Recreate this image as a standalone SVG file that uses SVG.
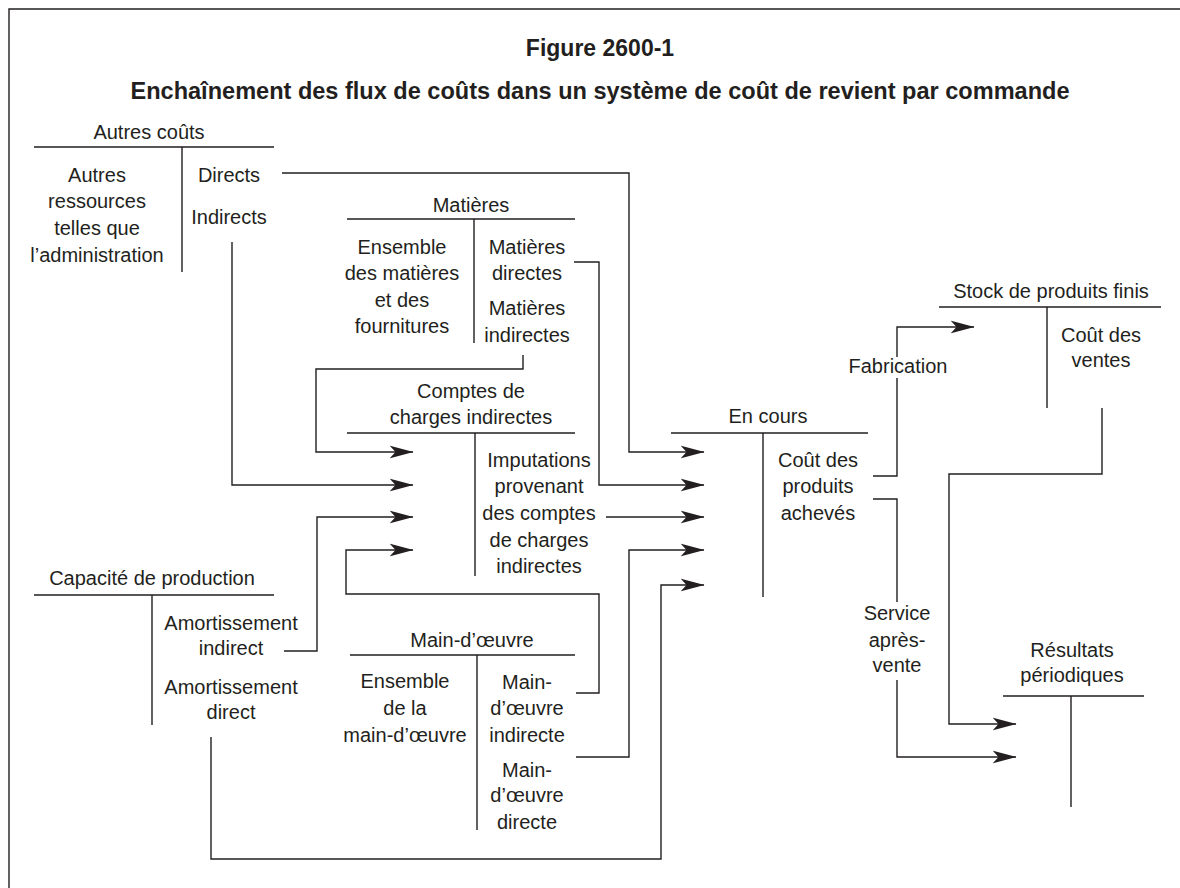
<svg xmlns="http://www.w3.org/2000/svg" width="1180" height="888" viewBox="0 0 1180 888">
<style>
text{font-family:"Liberation Sans",Arial,sans-serif;font-size:20px;fill:#231f20;text-anchor:middle}
.h{font-weight:bold;font-size:23px}
.ln{fill:none;stroke:#231f20;stroke-width:1.4}
.cn{fill:none;stroke:#231f20;stroke-width:1.4}
</style>
<defs>
<marker id="ar" markerUnits="userSpaceOnUse" markerWidth="24" markerHeight="14" viewBox="0 0 24 14" refX="23.5" refY="7" orient="auto">
<path d="M0,0.5 L24,7 L0,13.5 L6,7 Z" fill="#231f20"/>
</marker>
</defs>
<rect width="1180" height="888" fill="#fff"/>
<path class="ln" d="M9,888 V9 H1180"/>
<g id="title">
<text class="h" x="600" y="56">Figure 2600-1</text>
<text class="h" x="600" y="99" textLength="939" lengthAdjust="spacingAndGlyphs">Enchaînement des flux de coûts dans un système de coût de revient par commande</text>
</g>
<g id="autres-couts">
<text x="149" y="139">Autres coûts</text>
<path class="ln" d="M34,147 H274 M182,147 V272"/>
<text x="97" y="182">Autres</text>
<text x="97" y="208">ressources</text>
<text x="97" y="235">telles que</text>
<text x="97" y="262">l’administration</text>
<text x="229" y="182">Directs</text>
<text x="229" y="224">Indirects</text>
</g>
<g id="matieres">
<text x="471" y="212">Matières</text>
<path class="ln" d="M347,219 H575 M474,219 V343"/>
<text x="402" y="254">Ensemble</text>
<text x="402" y="280">des matières</text>
<text x="402" y="307">et des</text>
<text x="402" y="333">fournitures</text>
<text x="527" y="254">Matières</text>
<text x="527" y="280">directes</text>
<text x="527" y="315">Matières</text>
<text x="527" y="342">indirectes</text>
</g>
<g id="comptes-charges">
<text x="471" y="398">Comptes de</text>
<text x="471" y="424">charges indirectes</text>
<path class="ln" d="M347,433 H575 M475,433 V576"/>
<text x="539" y="467">Imputations</text>
<text x="539" y="493">provenant</text>
<text x="539" y="520">des comptes</text>
<text x="539" y="547">de charges</text>
<text x="539" y="573">indirectes</text>
</g>
<g id="capacite">
<text x="152" y="585">Capacité de production</text>
<path class="ln" d="M34,595 H274 M152,595 V725"/>
<text x="231" y="630">Amortissement</text>
<text x="231" y="655">indirect</text>
<text x="231" y="694">Amortissement</text>
<text x="231" y="719">direct</text>
</g>
<g id="main-oeuvre">
<text x="472" y="647">Main-d’œuvre</text>
<path class="ln" d="M350,655 H575 M477,655 V830"/>
<text x="405" y="688">Ensemble</text>
<text x="405" y="715">de la</text>
<text x="405" y="742">main-d’œuvre</text>
<text x="527" y="689">Main-</text>
<text x="527" y="715">d’œuvre</text>
<text x="527" y="742">indirecte</text>
<text x="527" y="777">Main-</text>
<text x="527" y="802">d’œuvre</text>
<text x="527" y="829">directe</text>
</g>
<g id="en-cours">
<text x="768" y="423">En cours</text>
<path class="ln" d="M671,433 H868 M763,433 V597"/>
<text x="818" y="467">Coût des</text>
<text x="818" y="493">produits</text>
<text x="818" y="520">achevés</text>
</g>
<g id="stock">
<text x="1051" y="298">Stock de produits finis</text>
<path class="ln" d="M939,307 H1161 M1047,307 V408"/>
<text x="1101" y="342">Coût des</text>
<text x="1101" y="367">ventes</text>
</g>
<g id="resultats">
<text x="1072" y="657">Résultats</text>
<text x="1072" y="682">périodiques</text>
<path class="ln" d="M1003,696 H1144 M1071,696 V807"/>
</g>
<g id="connectors">
<path class="cn" d="M282,173 H629 V452 H704" marker-end="url(#ar)"/>
<path class="cn" d="M232,242 V485 H413" marker-end="url(#ar)"/>
<path class="cn" d="M574,262 H599 V485 H704" marker-end="url(#ar)"/>
<path class="cn" d="M523,355 V369 H316 V452 H413" marker-end="url(#ar)"/>
<path class="cn" d="M284,651 H317 V517 H413" marker-end="url(#ar)"/>
<path class="cn" d="M576,693 H599 V594 H346 V550 H413" marker-end="url(#ar)"/>
<path class="cn" d="M606,517 H704" marker-end="url(#ar)"/>
<path class="cn" d="M576,757 H629 V550 H704" marker-end="url(#ar)"/>
<path class="cn" d="M211,737 V859 H661 V585 H704" marker-end="url(#ar)"/>
<path class="cn" d="M873,476 H897 V378"/>
<path class="cn" d="M897,357 V327 H974" marker-end="url(#ar)"/>
<path class="cn" d="M873,499 H897 V602"/>
<path class="cn" d="M897,680 V757 H1016" marker-end="url(#ar)"/>
<path class="cn" d="M1102,408 V474 H949 V724 H1016" marker-end="url(#ar)"/>
<text x="898" y="373">Fabrication</text>
<text x="897" y="620">Service</text>
<text x="897" y="647">après-</text>
<text x="897" y="672">vente</text>
</g>
</svg>
